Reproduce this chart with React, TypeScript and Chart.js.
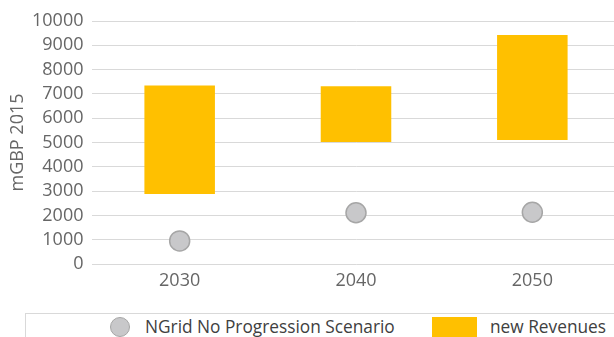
import React, { useEffect, useRef } from "react";
import { Chart, registerables } from "chart.js";

Chart.register(...registerables);

const years = ["2030", "2040", "2050"];
// New revenue range per year (low, high), mGBP 2015
const revenueLow = [2880, 5020, 5100];
const revenueHigh = [7350, 7310, 9420];
// NGrid No Progression Scenario, mGBP 2015
const noProgression = [950, 2110, 2130];

const yTicksMin = 0;
const yTicksMax = 10000;
const yTickStep = 1000;

const seriesNames = ["NGrid No Progression Scenario", "new Revenues"];

const FONT = "'Open Sans', 'Liberation Sans', sans-serif";
const GOLD = "#FFC000";
const DOT_FILL = "#C8C8CA";
const DOT_EDGE = "#A6A6A6";

export default function App() {
  const canvasRef = useRef<HTMLCanvasElement | null>(null);

  useEffect(() => {
    if (!canvasRef.current) return;
    const chart = new Chart(canvasRef.current, {
      type: "bar",
      data: {
        labels: years,
        datasets: [
          {
            type: "line",
            label: seriesNames[0],
            data: noProgression,
            showLine: false,
            pointRadius: 10,
            pointHoverRadius: 10,
            pointBackgroundColor: DOT_FILL,
            pointBorderColor: DOT_EDGE,
            pointBorderWidth: 1.5,
            order: 0,
          } as any,
          {
            type: "bar",
            label: seriesNames[1],
            data: years.map((_, i) => [revenueLow[i], revenueHigh[i]]),
            backgroundColor: GOLD,
            borderWidth: 0,
            barPercentage: 1,
            categoryPercentage: 0.4,
            order: 1,
          } as any,
        ],
      },
      options: {
        responsive: false,
        animation: false,
        layout: { padding: { left: 0, right: 9.5, top: 21, bottom: 0 } },
        plugins: {
          legend: { display: false },
          tooltip: { enabled: false },
        },
        scales: {
          x: {
            grid: { display: false, drawTicks: false },
            border: { display: false },
            ticks: {
              color: "#666666",
              font: { family: FONT, size: 18 },
              padding: 6,
            },
            afterFit: (scale: any) => {
              scale.height = 36;
            },
          },
          y: {
            min: yTicksMin,
            max: yTicksMax,
            grid: { color: "#D9D9D9", lineWidth: 1, drawTicks: false },
            border: { display: false },
            ticks: {
              stepSize: yTickStep,
              autoSkip: false,
              color: "#666666",
              font: { family: FONT, size: 18 },
              padding: 8,
              callback: (v: any) => String(v),
            },
            title: {
              display: true,
              text: "mGBP 2015",
              color: "#666666",
              font: { family: FONT, size: 18 },
              padding: { top: 7, bottom: 0 },
            },
            afterFit: (scale: any) => {
              scale.width = 91.5;
            },
          },
        },
      },
    });
    return () => chart.destroy();
  }, []);

  return (
    <div
      style={{
        position: "fixed",
        left: 0,
        top: 0,
        width: 614,
        height: 337,
        overflow: "hidden",
        background: "#fff",
      }}
    >
      <canvas
        ref={canvasRef}
        width={632}
        height={300}
        style={{ position: "absolute", left: 0, top: 0, width: 632, height: 300 }}
      />
      <div
        style={{
          position: "absolute",
          left: 25,
          top: 313,
          width: 620,
          height: 40,
          border: "1px solid #D9D9D9",
          boxSizing: "border-box",
          fontFamily: FONT,
          fontSize: 17.3,
          color: "#404040",
        }}
      >
        <span
          style={{
            position: "absolute",
            left: 84,
            top: 3,
            width: 20,
            height: 20,
            borderRadius: "50%",
            background: DOT_FILL,
            border: `1.5px solid ${DOT_EDGE}`,
            boxSizing: "border-box",
          }}
        />
        <span style={{ position: "absolute", left: 119, top: 1, whiteSpace: "nowrap", lineHeight: "24px" }}>
          {seriesNames[0]}
        </span>
        <span
          style={{
            position: "absolute",
            left: 406,
            top: 3,
            width: 45,
            height: 22,
            background: GOLD,
          }}
        />
        <span style={{ position: "absolute", left: 464, top: 1, whiteSpace: "nowrap", lineHeight: "24px" }}>
          {seriesNames[1]}
        </span>
      </div>
    </div>
  );
}
